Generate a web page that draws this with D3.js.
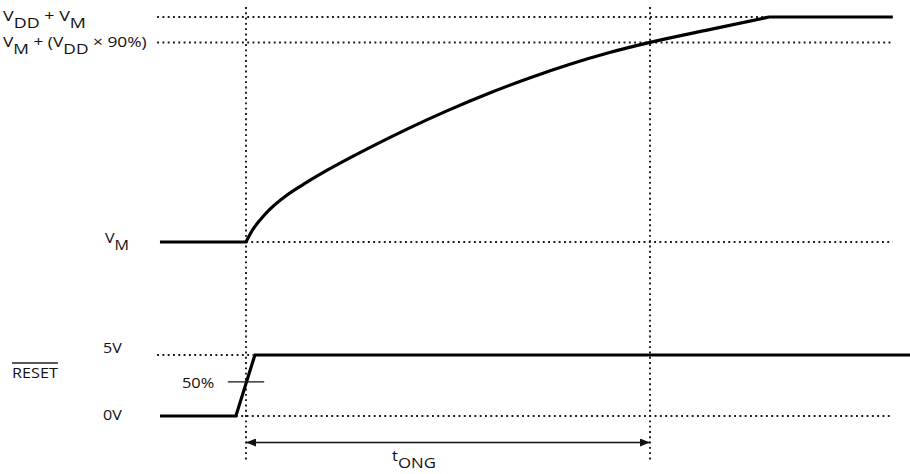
<!DOCTYPE html>
<html>
<head>
<meta charset="utf-8">
<script src="https://cdn.jsdelivr.net/npm/d3@7"></script>
<style>
  html, body { margin: 0; padding: 0; background: #fff; }
  svg { display: block; font-family: "Open Sans", "Noto Sans", sans-serif; }
  text { white-space: pre; fill: #111; }
</style>
</head>
<body>
<div id="chart"></div>
<script>
// Motor supply ramp. Level is normalised: 0 = VM, 1 = VDD + VM. Time in % of tONG.
const vmRiseTime  = [0, 1.5, 3.5, 6, 10, 15, 20, 30, 40, 50, 60, 70, 80, 90, 100, 115, 129.5];
const vmRiseLevel = [0, 0.05, 0.098, 0.147, 0.207, 0.265, 0.318, 0.414, 0.503, 0.585, 0.660, 0.728, 0.789, 0.842, 0.887, 0.945, 1];
const vmStart = -21.3;
const traceEnd = 160.1;

// RESET pin (volts)
const resetTime = [-21.3, -2.5, 2.2, 164.4];
const resetVolt = [0, 0, 5, 5];
const resetMark = 2.8; // "50 %" tick as drawn

// Reference levels and their labels (odd parts are subscripts)
const supplyLevels = [1, 0.887, 0];
const supplyLabels = [["V", "DD", " + V", "M"], ["V", "M", " + (V", "DD", " × 90%)"], ["V", "M"]];
const supplyGuideFrom = [-22, -22, 0];
const supplyGuideTo = [129.5, traceEnd, traceEnd];

const resetLevels = [5, 0];
const resetLabels = ["5V", "0V"];
const resetGuideFrom = [-22, -2.5];
const resetGuideTo = [1.8, traceEnd];

// Timing markers
const markerTimes = [0, 100];
const spanLabel = ["t", "ONG"];

const width = 910, height = 474;

const x = d3.scaleLinear().domain([0, 100]).range([246, 650]);
const yV = d3.scaleLinear().domain([0, 1]).range([242, 17]);
const yR = d3.scaleLinear().domain([0, 5]).range([416, 355]);

const svg = d3.select("#chart").append("svg")
  .attr("width", width)
  .attr("height", height);

const defs = svg.append("defs");
["start", "end"].forEach((k) => {
  defs.append("marker")
    .attr("id", "arrow-" + k)
    .attr("markerUnits", "userSpaceOnUse")
    .attr("viewBox", "0 0 10 8")
    .attr("refX", k === "end" ? 10 : 0)
    .attr("refY", 4)
    .attr("markerWidth", 10)
    .attr("markerHeight", 8)
    .attr("orient", "auto")
    .append("path")
    .attr("d", k === "end" ? "M0,0L10,4L0,8Z" : "M10,0L0,4L10,8Z")
    .attr("fill", "#111");
});

const dotted = (sel) => sel
  .attr("stroke", "#1a1a1a")
  .attr("stroke-width", 1.9)
  .attr("stroke-dasharray", "1.9,3.4")
  .attr("fill", "none");

// horizontal guides
const guides = svg.append("g");
supplyLevels.forEach((v, i) => {
  guides.append("line")
    .attr("x1", x(supplyGuideFrom[i])).attr("x2", x(supplyGuideTo[i]))
    .attr("y1", yV(v)).attr("y2", yV(v))
    .call(dotted);
});
resetLevels.forEach((v, i) => {
  guides.append("line")
    .attr("x1", x(resetGuideFrom[i])).attr("x2", x(resetGuideTo[i]))
    .attr("y1", yR(v)).attr("y2", yR(v))
    .call(dotted);
});

// vertical guides
markerTimes.forEach((t) => {
  guides.append("line")
    .attr("x1", x(t)).attr("x2", x(t))
    .attr("y1", 7).attr("y2", 462)
    .call(dotted);
});

// VM trace: flat, charge curve, flat
const rise = d3.line()
  .x((d) => x(d[0]))
  .y((d) => yV(d[1]))
  .curve(d3.curveMonotoneX);
const risePts = vmRiseTime.map((t, i) => [t, vmRiseLevel[i]]);
const vmPath = "M" + x(vmStart) + "," + yV(0)
  + rise(risePts).replace(/^M/, "L")
  + "L" + x(traceEnd) + "," + yV(1);

svg.append("path")
  .attr("d", vmPath)
  .attr("fill", "none")
  .attr("stroke", "#000")
  .attr("stroke-width", 3.2)
  .attr("stroke-linejoin", "miter");

// RESET trace
const resetLine = d3.line()
  .x((d) => x(d[0]))
  .y((d) => yR(d[1]));
svg.append("path")
  .attr("d", resetLine(resetTime.map((t, i) => [t, resetVolt[i]])))
  .attr("fill", "none")
  .attr("stroke", "#000")
  .attr("stroke-width", 3.2);

// 50% tick
svg.append("line")
  .attr("x1", x(-4.5)).attr("x2", x(4.5))
  .attr("y1", yR(resetMark)).attr("y2", yR(resetMark))
  .attr("stroke", "#111")
  .attr("stroke-width", 1.4);

// tONG arrow
svg.append("line")
  .attr("x1", x(markerTimes[0])).attr("x2", x(markerTimes[1]))
  .attr("y1", 442.5).attr("y2", 442.5)
  .attr("stroke", "#111")
  .attr("stroke-width", 1.4)
  .attr("marker-start", "url(#arrow-start)")
  .attr("marker-end", "url(#arrow-end)");

// ---------------------------------------------------------------------------
// labels
function subText(parent, parts, px, py, sx) {
  const t = parent.append("text")
    .attr("transform", "translate(" + px + "," + py + ") scale(" + sx + ",1)")
    .attr("font-size", 14);
  parts.forEach((p, i) => {
    t.append("tspan")
      .attr("dy", i === 0 ? 0 : (i % 2 ? 6.5 : -6.5))
      .text(p);
  });
  return t;
}

const labels = svg.append("g");
const supplyDy = [4, 5, 1];
const supplyX = [3, 3, 105];
const supplyScale = [1.28, 1.24, 1.15];
supplyLevels.forEach((v, i) => {
  subText(labels, supplyLabels[i], supplyX[i], yV(v) + supplyDy[i], supplyScale[i]);
});

const resetDy = [-2, 4];
resetLevels.forEach((v, i) => {
  labels.append("text")
    .attr("transform", "translate(103," + (yR(v) + resetDy[i]) + ") scale(1.15,1)")
    .attr("font-size", 14)
    .text(resetLabels[i]);
});

labels.append("text")
  .attr("transform", "translate(12,378) scale(1.16,1)")
  .attr("font-size", 14)
  .style("text-decoration", "overline")
  .text("RESET");

labels.append("text")
  .attr("transform", "translate(182,388) scale(1.17,1)")
  .attr("font-size", 14)
  .text("50%");

subText(labels, spanLabel, 392, 461, 1.2);
</script>
</body>
</html>
